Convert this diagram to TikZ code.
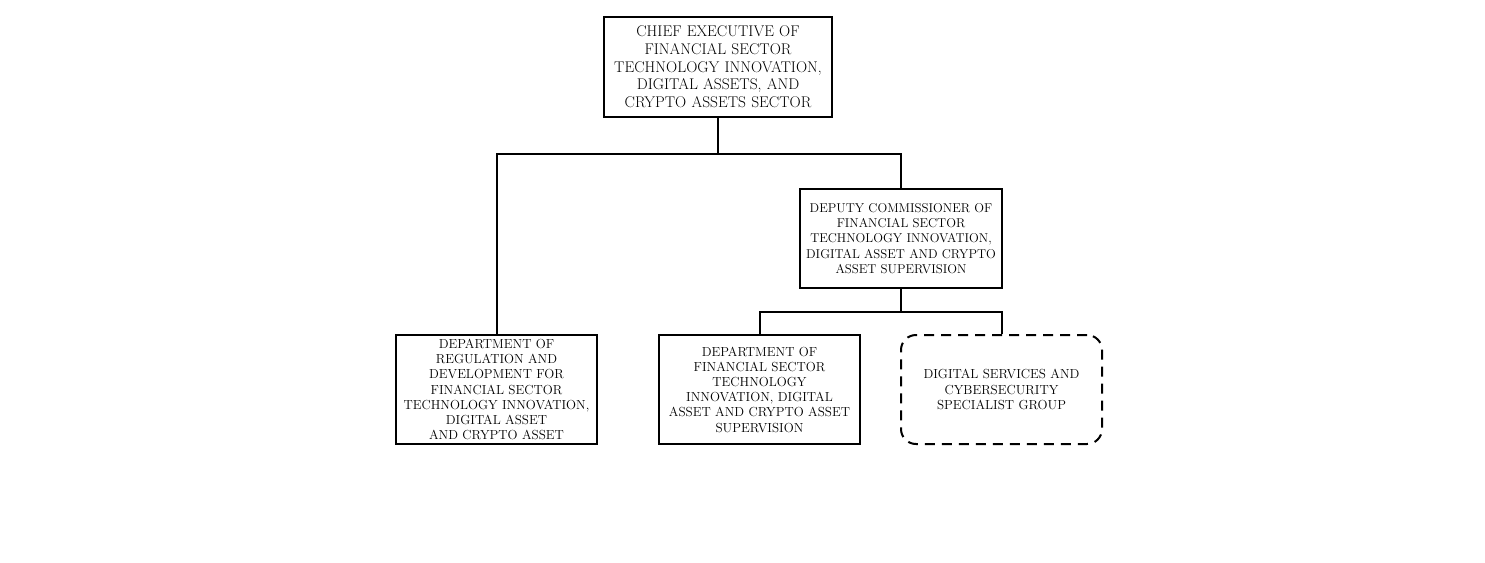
\documentclass[tikz,border=0pt]{standalone}
\usepackage{tikz}
\usetikzlibrary{positioning,calc}

\begin{document}
\begin{tikzpicture}[
  x=1pt,y=-1pt,
  line width=2pt,
  unit/.style={draw,align=center,inner sep=2pt,font=\fontsize{13.1}{15.2}\selectfont},
  headbox/.style={unit,text width=224pt,minimum height=100pt,font=\fontsize{15.5}{17.7}\selectfont},
  depbox/.style={unit,text width=198pt,minimum height=99pt,font=\fontsize{12.8}{15.2}\selectfont},
  deptbox/.style={unit,text width=197pt,minimum height=109pt},
  groupbox/.style={deptbox,dash pattern=on 10pt off 7pt,rounded corners=15pt},
]
\useasboundingbox (0,0) rectangle (1485,562);
\node[headbox] (chief) at (718,67) {CHIEF EXECUTIVE OF\\FINANCIAL SECTOR\\TECHNOLOGY INNOVATION,\\DIGITAL ASSETS, AND\\CRYPTO ASSETS SECTOR};
\node[depbox] (deputy) at (901,238.5) {DEPUTY COMMISSIONER OF\\FINANCIAL SECTOR\\TECHNOLOGY INNOVATION,\\DIGITAL ASSET AND CRYPTO\\ASSET SUPERVISION};
\node[deptbox] (regdept) at (496.5,389.5) {DEPARTMENT OF\\REGULATION AND\\DEVELOPMENT FOR\\FINANCIAL SECTOR\\TECHNOLOGY INNOVATION,\\DIGITAL ASSET\\AND CRYPTO ASSET};
\node[deptbox,right=60pt of regdept] (supdept) {DEPARTMENT OF\\FINANCIAL SECTOR\\TECHNOLOGY\\INNOVATION, DIGITAL\\ASSET AND CRYPTO ASSET\\SUPERVISION};
\node[groupbox,right=39pt of supdept] (cybergrp) {DIGITAL SERVICES AND\\CYBERSECURITY\\SPECIALIST GROUP};
% links
\coordinate (j1) at ($(chief.south)+(0,36)$);
\coordinate (j2) at ($(deputy.south)+(0,23)$);
\draw (chief.south) -- (j1);
\draw (regdept.north) |- (j1) -| (deputy.north);
\draw (deputy.south) -- (j2);
\draw (supdept.north) |- (j2) -| (cybergrp.north);
\end{tikzpicture}
\end{document}
